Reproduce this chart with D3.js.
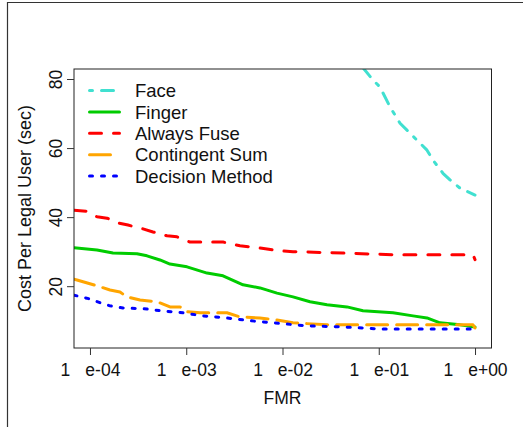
<!DOCTYPE html>
<html>
<head>
<meta charset="utf-8">
<script src="https://cdn.jsdelivr.net/npm/d3@7"></script>
<style>
  body { margin: 0; background: #fff; }
  svg { display: block; font-family: "Liberation Sans", Arial, sans-serif; }
</style>
</head>
<body>
<svg id="chart" width="523" height="427"></svg>
<script>
const faceFmr = [-1.25, -1.153, -1.06, -0.987, -0.883, -0.779, -0.707, -0.603, -0.499, -0.437, -0.333, -0.26, -0.156, 0]
const faceCost = [86, 82.9, 79.7, 77.7, 71.9, 67.2, 65.2, 62.3, 59.4, 56.5, 52.7, 50.8, 48.4, 46.4]

const fingerFmr = [-4.166, -3.927, -3.761, -3.512, -3.408, -3.273, -3.169, -2.992, -2.784, -2.618, -2.41, -2.234, -2.057, -1.891, -1.714, -1.538, -1.33, -1.164, -0.852, -0.644, -0.499, -0.364, -0.156, 0]
const fingerCost = [31.1, 30.5, 29.6, 29.4, 28.8, 27.6, 26.4, 25.6, 23.8, 23.0, 20.4, 19.5, 18.0, 16.9, 15.5, 14.6, 14.0, 12.9, 12.3, 11.4, 10.8, 9.4, 8.8, 8.2]

const fuseFmr = [-4.166, -4.031, -3.927, -3.823, -3.709, -3.605, -3.449, -3.345, -3.2, -3.096, -2.961, -2.618, -2.442, -2.338, -2.161, -2.057, -1.891, -1.372, -0.852, -0.021, 0]
const fuseCost = [42.0, 41.7, 40.1, 39.7, 38.3, 37.7, 36.6, 35.7, 34.6, 34.3, 32.8, 32.8, 31.7, 31.4, 30.8, 30.3, 30.0, 29.6, 29.1, 29.1, 27.7]

const sumFmr = [-4.166, -4.135, -3.927, -3.792, -3.688, -3.615, -3.48, -3.304, -3.169, -3.065, -2.992, -2.857, -2.577, -2.442, -2.234, -2.057, -1.891, -1.538, -0.021, 0]
const sumCost = [22.0, 21.8, 20.1, 18.9, 18.3, 16.9, 16.0, 15.5, 14.0, 14.0, 12.6, 12.3, 12.3, 11.1, 10.8, 10.2, 9.4, 8.8, 8.8, 7.9]

const decisionFmr = [-4.166, -4.135, -4.0, -3.896, -3.792, -3.657, -3.408, -3.273, -3.034, -2.826, -2.577, -2.338, -2.099, -1.746, -1.372, -0.987, 0]
const decisionCost = [17.4, 17.2, 16.3, 15.2, 14.3, 13.7, 13.4, 12.9, 12.3, 11.4, 10.8, 10.0, 9.4, 8.5, 8.2, 7.6, 7.6]

const seriesNames = ["Face", "Finger", "Always Fuse", "Contingent Sum", "Decision Method"]
const xTicks = [1e-4, 1e-3, 1e-2, 1e-1, 1]
const xTickExp = ["e-04", "e-03", "e-02", "e-01", "e+00"]
const yTicks = [20, 40, 60, 80]

const styles = [
  { color: "#40E0D0", dash: "3,9,12,9" },
  { color: "#00CC00", dash: null },
  { color: "#FF0000", dash: "12,12" },
  { color: "#FFA500", dash: "21,9" },
  { color: "#0000FF", dash: "3,9" },
]

const series = [
  [faceFmr, faceCost],
  [fingerFmr, fingerCost],
  [fuseFmr, fuseCost],
  [sumFmr, sumCost],
  [decisionFmr, decisionCost],
].map(([fx, cy], i) => ({
  name: seriesNames[i],
  points: fx.map((e, j) => ({ fmr: Math.pow(10, e), cost: cy[j] })),
  ...styles[i],
}))

const svg = d3.select("#chart")
const plotL = 74, plotR = 491, plotT = 69, plotB = 348

const x = d3.scaleLog().domain([Math.pow(10, -4.166), Math.pow(10, 0.166)]).range([plotL, plotR])
const y = d3.scaleLinear().domain([2.1, 82.9]).range([plotB, plotT])

// outer frame
svg.append("path").attr("d", "M7.5,427 L7.5,2.5 L523,2.5")
  .attr("fill", "none").attr("stroke", "#333").attr("stroke-width", 1.2)

svg.append("clipPath").attr("id", "plot-clip")
  .append("rect").attr("x", plotL).attr("y", plotT).attr("width", plotR - plotL).attr("height", plotB - plotT)

const line = d3.line().x((d) => x(d.fmr)).y((d) => y(d.cost))

svg.append("g").attr("clip-path", "url(#plot-clip)")
  .selectAll("path")
  .data(series)
  .join("path")
  .attr("d", (d) => line(d.points))
  .attr("fill", "none")
  .attr("stroke", (d) => d.color)
  .attr("stroke-width", 3)
  .attr("stroke-linecap", "round")
  .attr("stroke-linejoin", "round")
  .attr("stroke-dasharray", (d) => d.dash)

// box
svg.append("rect")
  .attr("x", plotL).attr("y", plotT)
  .attr("width", plotR - plotL + 0.5).attr("height", plotB - plotT)
  .attr("fill", "none").attr("stroke", "#222").attr("stroke-width", 1)

// y axis
const yAxis = svg.append("g")
  .attr("transform", `translate(${plotL},0)`)
  .call(d3.axisLeft(y).tickValues(yTicks).tickSize(7).tickFormat(d3.format("d")))
yAxis.select(".domain").remove()
yAxis.selectAll(".tick line").attr("stroke", "#333")
yAxis.selectAll(".tick text")
  .attr("x", null).attr("dy", null)
  .attr("transform", "translate(-12,0) rotate(-90)")
  .attr("text-anchor", "middle")
  .attr("font-size", 17.5)
  .attr("fill", "#111")

// x axis
const xAxis = svg.append("g")
  .attr("transform", `translate(0,${plotB})`)
  .call(d3.axisBottom(x).tickValues(xTicks).tickSize(7).tickFormat(""))
xAxis.select(".domain").remove()
xAxis.selectAll(".tick line").attr("stroke", "#333")
xAxis.selectAll(".tick text").remove()
xAxis.selectAll(".tick").each(function (d, i) {
  const t = d3.select(this).append("text")
    .attr("y", 28)
    .attr("text-anchor", "middle")
    .attr("font-size", 17.5)
    .attr("fill", "#111")
  t.append("tspan").text("1")
  t.append("tspan").attr("dx", 15).text(xTickExp[i])
})

// axis titles
svg.append("text")
  .attr("x", (plotL + plotR) / 2).attr("y", 404)
  .attr("text-anchor", "middle")
  .attr("font-size", 17.5)
  .attr("fill", "#111")
  .text("FMR")

svg.append("text")
  .attr("transform", `translate(31,${(plotT + plotB) / 2}) rotate(-90)`)
  .attr("text-anchor", "middle")
  .attr("font-size", 18)
  .attr("fill", "#111")
  .text("Cost Per Legal User (sec)")

// legend
const legend = svg.append("g")
  .selectAll("g")
  .data(series)
  .join("g")
  .attr("transform", (d, i) => `translate(0,${90.5 + i * 21.4})`)

legend.append("line")
  .attr("x1", 89.5).attr("x2", 119.5)
  .attr("stroke", (d) => d.color)
  .attr("stroke-width", 3)
  .attr("stroke-linecap", "round")
  .attr("stroke-dasharray", (d) => d.dash)

legend.append("text")
  .attr("x", 135).attr("dy", "0.36em")
  .attr("font-size", 18.5)
  .attr("fill", "#111")
  .text((d) => d.name)
</script>
</body>
</html>
